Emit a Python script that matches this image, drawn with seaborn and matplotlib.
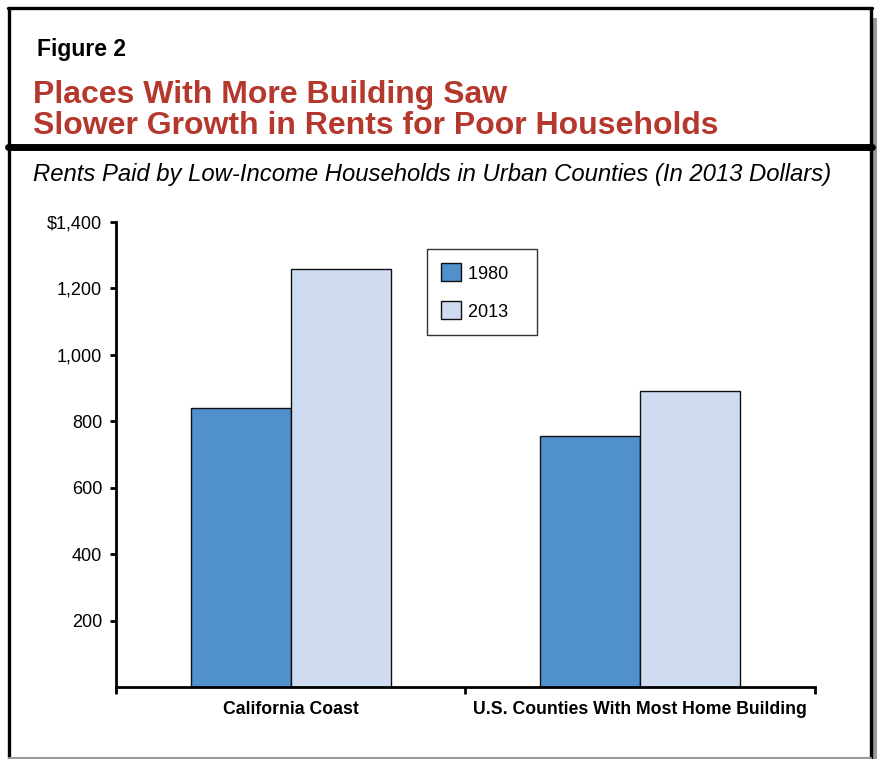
import pandas as pd
import seaborn as sns
import matplotlib.pyplot as plt
from matplotlib.lines import Line2D
from matplotlib.patches import Rectangle

categories = ['California Coast', 'U.S. Counties With Most Home Building']
years = ['1980', '2013']
rent_1980 = [840, 755]
rent_2013 = [1260, 890]
yticks = [200, 400, 600, 800, 1000, 1200, 1400]
ytick_labels = ['200', '400', '600', '800', '1,000', '1,200', '$1,400']

df = pd.DataFrame({
    'area': categories * 2,
    'year': [years[0]] * 2 + [years[1]] * 2,
    'rent': rent_1980 + rent_2013,
})

sns.set_style('white')
plt.rcParams['font.family'] = ['Liberation Sans', 'DejaVu Sans']
plt.rcParams['text.color'] = 'black'
plt.rcParams['xtick.color'] = 'black'
plt.rcParams['ytick.color'] = 'black'

W, H = 878, 759
fig = plt.figure(figsize=(W / 100, H / 100), dpi=100)


def fx(px):
    return px / W


def fy(px):
    return 1 - px / H


# frame around the figure with a grey drop shadow
fig.add_artist(Rectangle((fx(873), 0), fx(5), fy(18), transform=fig.transFigure,
                         facecolor='#9a9a9a', edgecolor='none'))
for xs, ys in [([9, 9], [8, 759]), ([8, 872], [8, 8]), ([871, 871], [8, 759])]:
    fig.add_artist(Line2D([fx(x) for x in xs], [fy(y) for y in ys], transform=fig.transFigure,
                          color='black', lw=2.4))
fig.add_artist(Line2D([fx(9), fx(871)], [fy(758), fy(758)], transform=fig.transFigure,
                      color='#9a9a9a', lw=1.5))
fig.add_artist(Line2D([fx(8), fx(872)], [fy(147), fy(147)], transform=fig.transFigure,
                      color='black', lw=5))

fig.text(fx(37), fy(56), 'Figure 2', fontsize=16.5, fontweight='bold', va='baseline')
red = '#b5382d'
fig.text(fx(33), fy(103), 'Places With More Building Saw', fontsize=23, fontweight='bold',
         color=red, va='baseline')
fig.text(fx(33), fy(134), 'Slower Growth in Rents for Poor Households', fontsize=23,
         fontweight='bold', color=red, va='baseline')
fig.text(fx(33), fy(181), 'Rents Paid by Low-Income Households in Urban Counties (In 2013 Dollars)',
         fontsize=17.2, style='italic', va='baseline')

ax = fig.add_axes([fx(116), fy(687), fx(815) - fx(116), fy(222) - fy(687)])
sns.barplot(data=df, x='area', y='rent', hue='year', order=categories, hue_order=years,
            palette=['#5090cd', '#cedbf1'], width=0.572, gap=0, edgecolor='#111111',
            linewidth=1, saturation=1, ax=ax)

ax.set_xlim(-0.5, 1.5)
ax.set_ylim(0, 1400)
ax.set_yticks(yticks)
ax.set_yticklabels(ytick_labels, fontsize=13)
ax.set_xticks([-0.5, 0.5, 1.5])
ax.set_xticklabels(['', '', ''])
ax.set_xticks([0, 1], minor=True)
ax.set_xticklabels(categories, minor=True, fontsize=12.7, fontweight='bold')
ax.tick_params(axis='x', which='major', direction='out', length=5, width=2, bottom=True)
ax.tick_params(axis='x', which='minor', length=0, pad=10)
ax.tick_params(axis='y', direction='out', length=4, width=2, left=True, pad=6)
ax.set_xlabel('')
ax.set_ylabel('')
for side in ['top', 'right']:
    ax.spines[side].set_visible(False)
for side in ['left', 'bottom']:
    ax.spines[side].set_color('black')
    ax.spines[side].set_linewidth(2)

leg = ax.legend(loc='upper left', bbox_to_anchor=(fx(427), fy(249)),
                bbox_transform=fig.transFigure, fontsize=13, frameon=True, fancybox=False,
                handlelength=1.1, handleheight=1.15, handletextpad=0.35, labelspacing=1.05,
                borderpad=0.8, borderaxespad=0, title=None)
leg.get_frame().set_edgecolor('black')
leg.get_frame().set_linewidth(1)
for h in leg.legend_handles:
    h.set_edgecolor('#111111')
# a little extra room on the right of the labels, like the original box
for t in leg.get_texts():
    t.set_text(t.get_text() + '   ')

fig.savefig('out.png', dpi=100)
